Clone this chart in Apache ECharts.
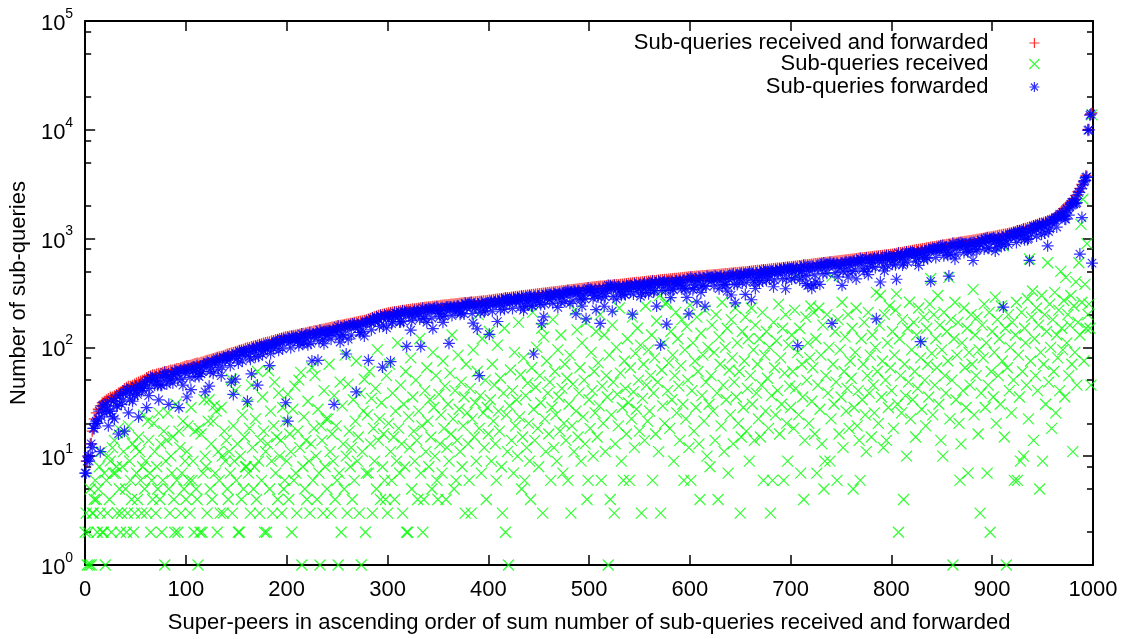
<!DOCTYPE html>
<html>
<head>
<meta charset="utf-8">
<script src="https://cdn.jsdelivr.net/npm/echarts@6/dist/echarts.min.js"></script>
<style>
html,body{margin:0;padding:0;background:#fff;}
#chart{width:1134px;height:639px;}
</style>
</head>
<body>
<div id="chart"></div>
<script>
// Sum of sub-queries received and forwarded, super-peers 1,3,5,...,999 (sorted ascending)
const totalQueries = [
9,10,13,17,22,25,27,29,31,32,
33,34,35,35,36,37,38,39,40,42,
43,44,44,45,46,47,48,49,50,51,
53,54,55,56,56,57,58,58,59,60,
60,61,62,62,63,64,64,65,66,67,
68,68,69,70,71,72,72,73,74,75,
76,77,78,79,80,81,82,83,84,85,
87,88,89,90,91,92,94,95,96,98,
99,100,102,103,104,105,107,108,110,111,
112,113,115,116,118,119,121,122,124,125,
126,127,128,129,130,131,133,134,135,136,
138,139,140,142,143,144,145,147,148,150,
151,152,154,155,157,158,160,161,162,164,
165,167,168,170,171,173,175,176,178,180,
182,185,188,191,194,197,200,202,204,206,
208,210,211,213,214,216,217,219,220,222,
223,224,226,227,228,230,231,232,234,235,
236,237,239,240,241,242,244,245,246,247,
248,250,251,252,253,254,256,257,258,259,
260,261,262,263,264,266,267,268,269,270,
272,273,275,277,278,280,282,283,285,287,
288,290,292,293,295,297,298,300,302,303,
305,306,308,310,311,313,315,316,318,320,
321,323,325,327,328,330,332,334,336,337,
339,340,342,344,346,348,350,352,353,355,
357,359,360,362,364,366,367,369,370,372,
373,375,376,378,379,381,382,384,386,388,
390,392,394,396,398,400,402,403,405,407,
409,411,413,415,417,418,420,422,424,425,
427,429,431,433,435,437,439,441,443,445,
447,449,451,452,454,456,457,459,460,462,
464,466,467,469,471,473,475,477,479,481,
483,485,487,489,491,493,495,497,499,501,
504,506,508,511,513,516,518,521,523,526,
528,531,533,536,538,541,543,546,549,552,
555,558,561,564,567,570,573,576,579,582,
585,588,591,594,597,600,603,606,609,612,
616,619,622,625,629,632,635,639,642,645,
649,652,656,659,663,666,670,673,677,680,
684,688,691,695,699,702,706,710,714,717,
721,727,733,739,745,751,757,762,768,774,
780,786,792,798,804,810,817,823,829,835,
841,848,854,860,867,873,879,886,892,899,
905,911,918,924,931,937,943,949,956,962,
969,977,985,993,1001,1009,1017,1025,1033,1041,
1050,1059,1068,1077,1086,1095,1104,1113,1123,1133,
1150,1165,1180,1196,1212,1228,1245,1262,1280,1298,
1316,1335,1354,1374,1394,1415,1436,1458,1480,1503,
1540,1590,1650,1720,1800,1880,1950,2030,2120,2220,
2330,2500,2700,2900,3150,3400,3800,10100,13800,14300
];

// Sub-queries forwarded, super-peers 1,3,5,...,999
const forwardedOdd = [
7,10,10,12,18,21,22,11,29,25,
27,19,26,23,22,29,16,37,32,17,
41,25,38,32,36,40,23,43,42,46,
28,36,53,52,45,49,33,45,53,59,
46,30,52,47,61,58,28,62,45,58,
35,62,41,61,54,68,54,57,67,39,
73,44,65,58,73,79,76,55,81,76,
82,77,48,37,51,79,92,91,91,90,
32,82,57,98,82,45,104,102,93,100,
99,68,106,97,111,115,111,119,119,31,
21,111,126,123,123,114,121,133,112,122,
106,136,75,124,133,76,144,133,108,128,
129,141,138,30,138,157,112,132,157,87,
119,159,164,164,39,158,137,165,127,173,
76,172,185,182,189,183,196,66,198,151,
188,74,173,209,205,198,172,216,212,102,
200,144,191,218,214,204,102,230,194,170,
228,222,149,230,235,205,220,170,202,235,
109,234,229,212,239,227,208,238,255,234,
254,258,167,232,148,55,260,243,219,242,
132,264,254,264,173,263,274,245,283,276,
259,276,285,274,285,274,293,220,266,256,
296,241,87,267,293,258,165,191,307,282,
273,295,313,303,233,313,290,314,322,331,
254,321,331,203,331,283,240,302,183,349,
339,319,300,222,292,166,323,239,315,371,
369,215,373,278,360,323,354,309,370,357,
325,202,382,369,348,295,368,389,360,312,
354,405,333,240,406,105,391,402,164,353,
287,344,376,408,391,369,409,346,288,203,
441,339,376,262,441,321,372,239,450,432,
409,440,453,431,346,454,430,377,329,419,
303,472,257,379,431,478,467,307,457,492,
274,411,348,441,393,471,512,495,471,426,
492,361,509,496,522,511,537,346,540,508,
425,540,519,104,417,500,569,386,370,502,
350,378,400,549,380,587,598,551,571,603,
166,589,574,445,534,372,575,613,442,570,
499,624,426,619,657,633,500,662,467,595,
554,663,183,675,399,627,506,696,686,652,
581,642,423,737,690,571,687,752,720,752,
747,726,662,568,113,700,767,673,794,405,
817,803,789,830,853,863,824,746,452,719,
904,651,833,904,918,897,878,799,866,762,
629,847,795,898,963,929,989,1018,823,981,
1015,769,888,957,846,235,954,1048,1083,1108,
1100,1035,1174,1161,1002,1218,1135,982,630,1108,
1302,1280,1314,1369,1094,1345,1406,858,1230,1485,
1480,1565,1570,1680,1650,1610,1510,1830,1960,2150,
2090,2100,2530,720,1560,3325,3650,9900,13600,595
];

// Sub-queries forwarded, super-peers 0,2,4,...,998
const forwardedEven = [
7,9,9,13,18,20,20,26,23,29,
30,31,26,33,32,34,29,36,30,38,
39,41,33,42,41,44,37,45,40,44,
48,50,42,52,50,53,45,55,45,56,
56,54,50,57,56,60,51,61,51,63,
62,64,53,65,66,64,59,66,60,70,
70,72,60,74,73,76,63,78,66,80,
80,83,68,85,84,86,72,89,75,91,
92,94,78,97,95,99,83,101,86,104,
105,106,88,109,107,112,94,114,97,117,
118,119,99,121,118,123,104,126,107,128,
129,131,109,133,130,136,114,138,117,141,
142,143,119,146,142,149,125,152,128,154,
155,157,130,160,155,163,137,166,140,169,
171,173,145,179,175,185,156,190,160,194,
196,197,165,200,194,203,171,206,173,209,
210,211,176,214,207,217,182,219,184,222,
223,224,186,226,218,228,192,231,194,233,
234,235,196,238,229,240,202,243,203,245,
245,247,205,249,240,251,210,253,212,255,
256,258,215,262,252,265,222,268,224,271,
272,274,228,277,267,280,235,283,237,287,
288,290,241,293,282,296,248,299,250,302,
304,306,254,309,297,312,261,316,264,319,
320,322,268,326,313,329,276,333,278,336,
337,340,282,343,330,347,290,349,292,352,
353,355,295,358,344,361,302,363,304,367,
369,371,309,375,360,379,317,382,319,385,
387,389,323,393,378,396,332,399,334,403,
404,406,338,410,394,414,346,417,349,421,
423,425,354,429,412,432,361,435,364,438,
439,441,367,444,427,448,375,451,378,455,
457,459,382,463,445,467,391,470,393,474,
476,479,399,483,465,488,409,492,412,497,
500,502,418,507,488,512,429,516,432,522,
525,528,440,534,514,540,452,545,457,551,
553,556,464,562,541,568,476,573,480,579,
582,586,488,592,570,598,501,604,506,610,
614,617,514,624,601,630,528,637,534,644,
647,651,543,658,634,665,557,672,563,679,
682,687,575,698,675,710,597,721,606,731,
737,743,621,754,729,766,644,778,654,790,
795,801,670,813,785,826,694,837,704,850,
856,862,720,874,843,886,744,898,754,910,
916,923,772,938,907,954,802,969,815,984,
992,1000,837,1018,984,1035,870,1052,885,1070,
1083,1098,923,1127,1095,1158,978,1189,1006,1223,
1240,1258,1059,1294,1259,1333,1128,1373,1162,1415,
1444,1485,1276,1600,1601,1746,1515,1889,1643,2060,
2160,2290,2140,2660,2870,3110,3420,3700,10000,14000
];

// Sub-queries received, super-peers 0..999
const receivedQueries = [
2,3,1,2,1,5,1,3,3,4,6,4,2,5,8,3,11,2,2,7,
1,6,3,10,4,9,2,12,7,14,7,8,3,18,5,2,3,8,11,16,
5,2,3,19,9,6,4,13,2,3,12,7,4,15,11,6,3,8,24,5,
9,3,21,14,7,2,6,4,20,11,3,8,5,25,4,13,2,6,17,1,
9,14,25,5,3,10,7,15,4,2,30,6,2,17,12,3,7,21,5,9,
4,11,19,6,3,28,6,9,2,17,5,4,1,18,2,16,2,7,33,10,
8,3,21,33,5,13,4,21,29,7,26,2,11,6,3,28,10,3,17,9,
14,5,4,11,7,51,3,19,9,40,6,13,2,2,10,4,24,5,15,8,
8,30,7,18,3,45,12,5,8,22,4,60,9,3,14,6,35,17,2,11,
2,13,61,5,26,9,3,19,48,7,15,4,38,10,14,3,28,5,6,21,
9,37,4,16,11,2,27,6,44,7,3,17,50,12,59,1,8,23,5,14,
4,32,9,3,13,65,6,18,55,10,4,27,7,1,19,14,3,40,8,22,
5,22,70,11,3,16,9,36,4,19,6,1,7,48,2,29,13,5,85,10,
3,46,17,8,12,4,33,6,21,75,9,15,3,38,1,11,26,51,2,7,
24,7,60,13,34,3,18,9,42,5,95,14,22,4,31,8,16,6,4,55,
3,20,70,11,6,38,15,4,26,9,110,18,7,45,13,3,30,8,60,2,
2,23,12,80,5,35,17,9,50,14,4,26,120,7,19,2,4,40,11,65,
21,8,33,15,5,90,28,10,55,6,4,37,13,24,7,75,18,44,4,12,
30,9,58,16,130,22,5,40,6,14,85,27,11,48,8,19,35,3,70,25,
13,6,42,3,22,95,15,31,9,60,200,18,36,7,120,25,12,50,4,28,
16,140,33,9,70,21,45,13,6,105,26,17,52,8,3,38,150,2,24,11,
1,29,62,14,40,7,90,19,33,10,170,23,56,5,15,80,6,36,12,47,
20,9,4,65,210,27,14,43,100,18,8,55,31,150,3,125,22,11,75,38,
16,48,6,28,180,12,60,24,9,95,35,17,130,42,7,20,70,14,52,6,
30,85,3,19,46,11,220,26,145,15,38,65,9,110,23,50,13,170,4,6,
33,18,90,40,10,60,25,140,15,72,29,200,6,44,20,130,11,55,35,1,
85,4,24,160,48,3,13,100,37,19,230,58,9,28,6,75,42,16,120,31,
6,65,22,190,39,12,88,27,150,50,17,105,3,34,70,14,240,45,21,95,
26,55,130,6,38,80,16,175,48,11,300,3,62,29,110,20,250,260,40,72,
18,140,33,85,9,55,210,25,120,44,14,68,180,30,6,95,22,155,50,12,
245,6,40,110,17,75,28,190,60,13,4,135,36,85,21,220,48,10,100,30,
8,55,160,26,90,14,200,38,4,125,70,19,260,45,11,100,33,150,7,62,
24,180,80,13,48,230,35,110,20,60,3,15,140,28,75,190,17,42,120,9,
55,230,30,95,14,160,38,70,22,120,15,45,210,6,85,26,140,52,18,100,
3,36,6,170,65,24,115,40,250,16,80,30,150,6,58,200,20,9,105,44,
28,130,60,18,220,42,460,90,24,150,7,70,35,4,14,190,50,110,20,80,
240,32,65,210,16,120,7,45,230,27,85,13,160,5,9,55,200,38,100,9,
22,450,70,30,140,48,6,180,16,95,35,260,12,60,125,26,42,200,18,75,
52,150,5,28,90,230,19,40,14,6,120,33,70,170,24,11,55,210,38,85,
15,130,45,25,100,320,60,20,160,300,35,75,12,200,50,14,110,28,240,65,
40,140,18,85,220,310,30,2,120,55,25,180,4,70,36,10,150,48,260,22,
95,33,170,60,15,130,42,230,680,80,27,110,190,50,19,150,70,35,250,430,
88,24,200,45,120,65,300,30,160,14,95,10,210,55,38,140,75,440,22,180,
50,1,120,260,33,85,170,20,6,13,110,40,230,65,28,150,7,90,45,200,
70,340,24,130,55,190,16,95,3,38,160,80,250,28,110,7,45,210,2,60,
140,35,90,290,20,180,55,120,30,240,75,860,15,150,1,65,200,40,100,25,
170,50,6,130,260,6,85,35,9,210,60,10,150,110,45,280,22,650,75,190,
330,14,120,55,230,40,160,5,90,300,9,70,200,30,140,600,48,250,100,18,
180,60,320,25,130,80,220,40,500,150,95,270,35,440,110,200,55,160,300,70,
11,240,90,400,45,170,600,130,1350,260,2300,75,380,150,900,200,250,150,45,13700
];

const xTickValues = [0, 100, 200, 300, 400, 500, 600, 700, 800, 900, 1000];
const yMajorValues = [1, 10, 100, 1000, 10000, 100000];
const yMinorValues = [2, 5, 8, 20, 50, 80, 200, 500, 800, 2000, 5000, 8000, 20000, 50000, 80000];

const seriesNames = [
  'Sub-queries received and forwarded',
  'Sub-queries received',
  'Sub-queries forwarded'
];

const FONT = '"Liberation Sans", Arial, Helvetica, sans-serif';
const INK = '#000';

// point shapes: plus, cross and asterisk, drawn as strokes
const PLUS = 'path://M0,5L10,5M5,0L5,10';
const CROSS = 'path://M0,0L10,10M10,0L0,10';
const STAR = 'path://M0,5L10,5M5,0L5,10M1.5,1.5L8.5,8.5M8.5,1.5L1.5,8.5';

const sumData = totalQueries.map((v, i) => [2 * i + 1, v]);
const fwdData = forwardedEven.map((v, i) => [2 * i, v])
  .concat(forwardedOdd.map((v, i) => [2 * i + 1, v]));
const recvData = receivedQueries.map((v, i) => [i, v]);

const chart = echarts.init(document.getElementById('chart'), null, { renderer: 'canvas' });

function logAxis(extra) {
  return Object.assign({
    type: 'log',
    logBase: 10,
    min: 1,
    max: 100000,
    splitLine: { show: false },
    axisLine: { show: false },
    axisLabel: { show: false },
    axisTick: { show: false }
  }, extra);
}

function xAxisBase(extra) {
  return Object.assign({
    type: 'value',
    min: 0,
    max: 1000,
    interval: 100,
    splitLine: { show: false },
    axisLine: { show: true, onZero: false, lineStyle: { color: INK, width: 2 } },
    axisTick: { show: true, inside: true, length: 10, lineStyle: { color: INK, width: 1.5 }, customValues: xTickValues },
    axisLabel: { show: false }
  }, extra);
}

const legendCommon = {
  orient: 'vertical',
  align: 'right',
  right: 94,
  itemWidth: 82,
  itemHeight: 10,
  padding: 0,
  selectedMode: false,
  textStyle: { fontSize: 22, color: INK, fontFamily: FONT },
  itemStyle: { borderWidth: 1.2 }
};

const markerCommon = {
  type: 'scatter',
  silent: true,
  progressive: 0,
  large: false,
  emphasis: { disabled: true }
};

chart.setOption({
  animation: false,
  backgroundColor: '#fff',
  grid: { left: 83, right: 41, top: 21, bottom: 72, containLabel: false },
  legend: [
    Object.assign({ data: [seriesNames[0]], top: 32 }, legendCommon),
    Object.assign({ data: [seriesNames[1]], top: 53 }, legendCommon),
    Object.assign({ data: [seriesNames[2]], top: 76 }, legendCommon)
  ],
  xAxis: [
    xAxisBase({
      position: 'bottom',
      name: 'Super-peers in ascending order of sum number of sub-queries received and forwarded',
      nameLocation: 'middle',
      nameGap: 47,
      nameTextStyle: { fontSize: 22, color: INK, fontFamily: FONT },
      axisLabel: {
        show: true, fontSize: 22, color: INK, fontFamily: FONT, margin: 14,
        customValues: xTickValues,
        formatter: function (v) { return String(v); }
      }
    }),
    xAxisBase({ position: 'top' })
  ],
  yAxis: [
    logAxis({
      position: 'left',
      name: 'Number of sub-queries',
      nameLocation: 'middle',
      nameGap: 53,
      nameTextStyle: { fontSize: 22, color: INK, fontFamily: FONT },
      axisLine: { show: true, lineStyle: { color: INK, width: 2 } },
      axisTick: { show: true, inside: true, length: 10, lineStyle: { color: INK, width: 1.5 }, customValues: yMajorValues },
      axisLabel: {
        show: true,
        margin: 12,
        customValues: yMajorValues,
        formatter: function (v) {
          return '{b|10}{e|' + Math.round(Math.log10(v)) + '}';
        },
        rich: {
          b: { fontSize: 22, color: INK, fontFamily: FONT, lineHeight: 28, verticalAlign: 'bottom' },
          e: { fontSize: 14, color: INK, fontFamily: FONT, lineHeight: 28, verticalAlign: 'top' }
        }
      }
    }),
    logAxis({
      position: 'left',
      axisTick: { show: true, inside: true, length: 6, lineStyle: { color: INK, width: 1.5 }, customValues: yMinorValues }
    }),
    logAxis({
      position: 'right',
      axisLine: { show: true, lineStyle: { color: INK, width: 2 } },
      axisTick: { show: true, inside: true, length: 10, lineStyle: { color: INK, width: 1.5 }, customValues: yMajorValues }
    }),
    logAxis({
      position: 'right',
      axisTick: { show: true, inside: true, length: 6, lineStyle: { color: INK, width: 1.5 }, customValues: yMinorValues }
    })
  ],
  series: [
    Object.assign({
      name: seriesNames[0],
      data: sumData,
      symbol: PLUS,
      symbolSize: 11,
      itemStyle: { color: 'transparent', borderColor: '#ff0000', borderWidth: 1.3 }
    }, markerCommon),
    Object.assign({
      name: seriesNames[1],
      data: recvData,
      symbol: CROSS,
      symbolSize: 11,
      itemStyle: { color: 'transparent', borderColor: '#00ff00', borderWidth: 1.2 }
    }, markerCommon),
    Object.assign({
      name: seriesNames[2],
      data: fwdData,
      symbol: STAR,
      symbolSize: 12,
      itemStyle: { color: 'transparent', borderColor: '#0000ff', borderWidth: 1.2 }
    }, markerCommon)
  ]
});
</script>
</body>
</html>
